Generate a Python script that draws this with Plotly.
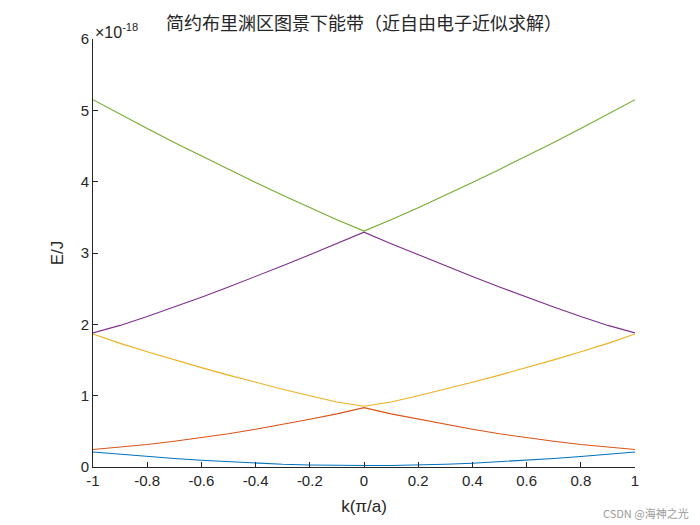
import plotly.graph_objects as go

# k in units of pi/a
k = [-1.0, -0.9, -0.8, -0.7, -0.6, -0.5, -0.4, -0.3, -0.2, -0.1, 0.0,
     0.1, 0.2, 0.3, 0.4, 0.5, 0.6, 0.7, 0.8, 0.9, 1.0]

# energies in units of 1e-18 J
band1 = [0.210, 0.178, 0.148, 0.120, 0.094, 0.072, 0.053, 0.038, 0.028, 0.022, 0.020,
         0.022, 0.028, 0.038, 0.053, 0.072, 0.094, 0.120, 0.148, 0.178, 0.210]
band2 = [0.245, 0.275, 0.315, 0.360, 0.410, 0.465, 0.530, 0.595, 0.670, 0.745, 0.832,
         0.745, 0.670, 0.595, 0.530, 0.465, 0.410, 0.360, 0.315, 0.275, 0.245]
band3 = [1.865, 1.733, 1.615, 1.502, 1.393, 1.288, 1.187, 1.090, 1.000, 0.912, 0.852,
         0.912, 1.000, 1.090, 1.187, 1.288, 1.393, 1.502, 1.615, 1.733, 1.865]
band4 = [1.880, 1.985, 2.109, 2.243, 2.381, 2.524, 2.670, 2.820, 2.975, 3.131, 3.292,
         3.131, 2.975, 2.820, 2.670, 2.524, 2.381, 2.243, 2.109, 1.985, 1.880]
band5 = [5.150, 4.946, 4.746, 4.550, 4.359, 4.172, 3.988, 3.809, 3.634, 3.465, 3.308,
         3.465, 3.634, 3.809, 3.988, 4.172, 4.359, 4.550, 4.746, 4.946, 5.150]

bands = [band1, band2, band3, band4, band5]
colors = ["#0072BD", "#D95319", "#EDB120", "#7E2F8E", "#77AC30"]

xtick_vals = [-1, -0.8, -0.6, -0.4, -0.2, 0, 0.2, 0.4, 0.6, 0.8, 1]
xtick_text = ["-1", "-0.8", "-0.6", "-0.4", "-0.2", "0", "0.2", "0.4", "0.6", "0.8", "1"]
ytick_vals = [0, 1, 2, 3, 4, 5, 6]
ytick_text = ["0", "1", "2", "3", "4", "5", "6"]

fig = go.Figure()
for b, c in zip(bands, colors):
    fig.add_trace(go.Scatter(x=k, y=b, mode="lines", line=dict(color=c, width=1.1),
                             showlegend=False))

W, H = 693, 518  # page body adds ~7px offset
L, R, T, B = 85, 66, 31, 59
axis_color = "#262626"
fig.update_layout(
    width=W, height=H,
    margin=dict(l=L, r=R, t=T, b=B),
    paper_bgcolor="white", plot_bgcolor="white",
    font=dict(family="Liberation Sans, Arial, sans-serif", size=15, color=axis_color),
    title=dict(text="简约布里渊区图景下能带（近自由电子近似求解）",
               font=dict(family="Noto Sans CJK SC", size=18, color=axis_color),
               x=(L + (W - R)) / 2 / W, xanchor="center", y=1 - 16 / H, yanchor="middle"),
    showlegend=False,
)
fig.update_xaxes(range=[-1, 1], tickvals=xtick_vals, ticktext=xtick_text,
                 ticks="inside", ticklen=5, tickcolor=axis_color, showline=True,
                 linecolor=axis_color, linewidth=1, showgrid=False, zeroline=False,
                 title=dict(text="k(π/a)", standoff=12, font=dict(size=17)))
fig.update_yaxes(range=[0, 6], tickvals=ytick_vals, ticktext=ytick_text,
                 ticks="inside", ticklen=5, tickcolor=axis_color, showline=True,
                 linecolor=axis_color, linewidth=1, showgrid=False, zeroline=False,
                 title=dict(text="E/J", standoff=12, font=dict(size=17)))

fig.add_annotation(text="×10<sup>-18</sup>", xref="paper", yref="paper", x=0, y=1,
                   xanchor="left", yanchor="bottom", showarrow=False, yshift=-4,
                   font=dict(size=16, color=axis_color))
fig.add_annotation(text="CSDN @海神之光", xref="paper", yref="paper",
                   x=(W - 10 - L) / (W - L - R), y=-46 / (H - T - B),
                   xanchor="right", yanchor="middle", showarrow=False,
                   font=dict(family="Noto Sans CJK SC", size=11, color="#9a9a9a"))

fig.write_html("out.html")
